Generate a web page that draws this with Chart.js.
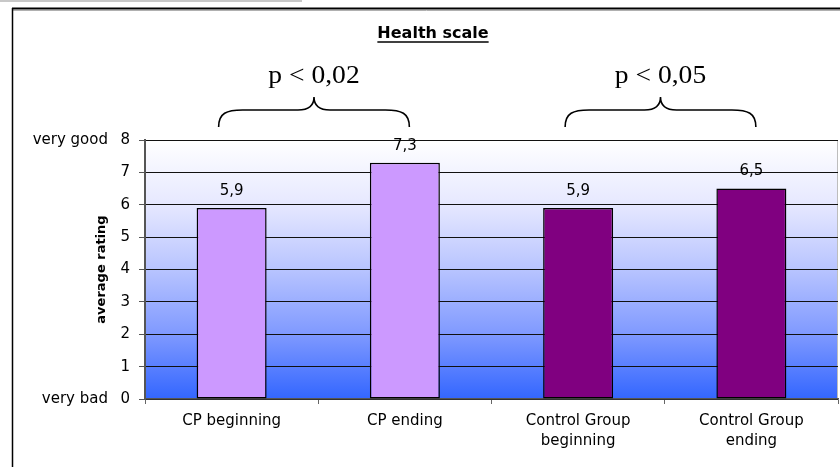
<!DOCTYPE html>
<html>
<head>
<meta charset="utf-8">
<script src="https://cdn.jsdelivr.net/npm/chart.js@4/dist/chart.umd.min.js"></script>
<style>
  html, body { margin: 0; padding: 0; background: #fff; }
  #wrap { width: 840px; height: 467px; }
</style>
</head>
<body>
<div id="wrap"><canvas id="ch_health" width="840" height="467"></canvas></div>
<script>
// data
const categories = [['CP beginning'], ['CP ending'], ['Control Group', 'beginning'], ['Control Group', 'ending']];
const ratings    = [5.9, 7.3, 5.9, 6.5];
const barColors  = ['#cc99ff', '#cc99ff', '#800080', '#800080'];
const yMin = 0, yMax = 8, yStep = 1;
const scaleEnds  = ['very bad', 'very good'];   // labels for 0 and 8
const comparisons = [
  { from: 0, to: 1, label: 'p < 0,02' },
  { from: 2, to: 3, label: 'p < 0,05' }
];
const chartTitle = 'Health scale';
const axisTitle  = 'average rating';

const SANS = '"DejaVu Sans", sans-serif';
const SERIF = '"Liberation Serif", "Times New Roman", serif';

function fmtComma(v) { return v.toFixed(1).replace('.', ','); }

/* ── frame + plot gradient ───────────────────────────── */
const backdrop = {
  id: 'backdrop',
  beforeDraw(chart) {
    const { ctx, chartArea: a } = chart;
    ctx.save();
    // outer frame of the pasted chart
    ctx.strokeStyle = '#c8c8c8'; ctx.lineWidth = 2;
    ctx.beginPath(); ctx.moveTo(0, 1); ctx.lineTo(302, 1); ctx.stroke();
    ctx.strokeStyle = '#000'; ctx.lineWidth = 2;
    ctx.beginPath(); ctx.moveTo(12, 8.5); ctx.lineTo(840, 8.5); ctx.stroke();
    ctx.strokeStyle = '#b0b0b0'; ctx.lineWidth = 1;
    ctx.beginPath(); ctx.moveTo(13, 10.5); ctx.lineTo(840, 10.5); ctx.stroke();
    ctx.strokeStyle = '#000'; ctx.lineWidth = 1.5;
    ctx.beginPath(); ctx.moveTo(12.5, 8); ctx.lineTo(12.5, 467); ctx.stroke();

    const g = ctx.createLinearGradient(0, a.top, 0, a.bottom);
    g.addColorStop(0, '#ffffff');
    g.addColorStop(0.25, '#e6e8ff');
    g.addColorStop(0.5, '#b8c4ff');
    g.addColorStop(0.75, '#7f99ff');
    g.addColorStop(1, '#3366ff');
    ctx.fillStyle = g;
    ctx.fillRect(a.left, a.top, a.right - a.left, a.bottom - a.top);
    ctx.strokeStyle = '#bdbdbd'; ctx.lineWidth = 1;
    ctx.beginPath(); ctx.moveTo(a.right - 0.5, a.top); ctx.lineTo(a.right - 0.5, a.bottom); ctx.stroke();
    ctx.restore();
  }
};

/* ── value labels, braces, titles ────────────────────── */
const annotations = {
  id: 'annotations',
  afterDatasetsDraw(chart) {
    const { ctx } = chart;
    const meta = chart.getDatasetMeta(0);
    ctx.save();
    ctx.fillStyle = '#000';
    ctx.font = '15px ' + SANS;
    ctx.textAlign = 'center';
    ctx.textBaseline = 'middle';
    meta.data.forEach((bar, i) => {
      ctx.fillText(fmtComma(ratings[i]), bar.x, bar.y - 17);
    });
    ctx.restore();
  },
  afterDraw(chart) {
    const { ctx, scales: { x, y } } = chart;
    ctx.save();
    ctx.fillStyle = '#000';
    ctx.strokeStyle = '#000';

    // title, underlined
    ctx.font = 'bold 16px ' + SANS;
    ctx.textAlign = 'center';
    ctx.textBaseline = 'middle';
    const tx = 433, ty = 33.5;
    ctx.fillText(chartTitle, tx, ty);
    const tw = ctx.measureText(chartTitle).width;
    ctx.lineWidth = 1.5;
    ctx.beginPath(); ctx.moveTo(tx - tw / 2, ty + 8.5); ctx.lineTo(tx + tw / 2, ty + 8.5); ctx.stroke();

    // significance braces
    comparisons.forEach(c => {
      const L = x.getPixelForValue(c.from) - 13;
      const R = x.getPixelForValue(c.to) + 4.5;
      const M = (L + R) / 2;
      const yEnd = 127, yFlat = 110, yTip = 97;
      ctx.lineWidth = 1.6;
      ctx.beginPath();
      ctx.moveTo(L, yEnd);
      ctx.bezierCurveTo(L, yFlat + 3, L + 8, yFlat, L + 24, yFlat);
      ctx.lineTo(M - 16, yFlat);
      ctx.bezierCurveTo(M - 5, yFlat, M, yFlat - 4, M, yTip);
      ctx.bezierCurveTo(M, yFlat - 4, M + 5, yFlat, M + 16, yFlat);
      ctx.lineTo(R - 24, yFlat);
      ctx.bezierCurveTo(R - 8, yFlat, R, yFlat + 3, R, yEnd);
      ctx.stroke();

      ctx.save();
      ctx.translate(M, 76);
      ctx.scale(1.06, 1);
      ctx.font = '26px ' + SERIF;
      ctx.fillText(c.label, 0, 0);
      ctx.restore();
    });

    // verbal scale ends
    ctx.font = '15px ' + SANS;
    ctx.textAlign = 'right';
    ctx.fillText(scaleEnds[0], 108, y.getPixelForValue(yMin));
    ctx.fillText(scaleEnds[1], 108, y.getPixelForValue(yMax));

    // y axis title
    ctx.translate(102, (y.top + y.bottom) / 2);
    ctx.rotate(-Math.PI / 2);
    ctx.textAlign = 'center';
    ctx.font = 'bold 13px ' + SANS;
    ctx.fillText(axisTitle, 0, 0);
    ctx.restore();
  }
};

new Chart(document.getElementById('ch_health').getContext('2d'), {
  type: 'bar',
  data: {
    labels: categories,
    datasets: [{
      data: ratings,
      backgroundColor: barColors,
      borderColor: '#000',
      borderWidth: 1.5,
      borderSkipped: false,
      categoryPercentage: 1,
      barPercentage: 0.404
    }]
  },
  options: {
    responsive: false,
    animation: false,
    layout: { padding: { top: 140, right: 2, left: 0, bottom: 0 } },
    plugins: { legend: { display: false }, tooltip: { enabled: false }, title: { display: false } },
    scales: {
      x: {
        offset: true,
        afterFit(s) { s.height = 68; },
        grid: { display: true, drawOnChartArea: false, drawTicks: true, tickLength: 5, offset: true, color: '#666' },
        border: { color: '#555', width: 1.5 },
        ticks: { color: '#000', padding: 7, font: { family: SANS, size: 15, lineHeight: 1.33 }, maxRotation: 0, autoSkip: false }
      },
      y: {
        min: yMin, max: yMax,
        afterFit(s) { s.width = 145; },
        grid: { color: '#111', lineWidth: 1, tickLength: 6, tickColor: '#555' },
        border: { color: '#555', width: 2 },
        ticks: { stepSize: yStep, color: '#000', padding: 9, font: { family: SANS, size: 15 } }
      }
    }
  },
  plugins: [backdrop, annotations]
});
</script>
</body>
</html>
